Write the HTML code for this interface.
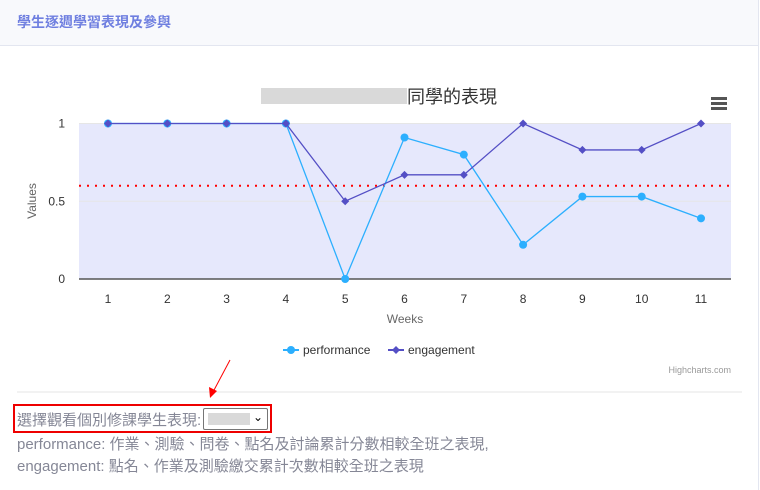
<!DOCTYPE html>
<html><head><meta charset="utf-8"><style>
body{margin:0;width:760px;height:490px;background:#fff;font-family:"Liberation Sans","Noto Sans CJK TC",sans-serif;position:relative;overflow:hidden}
.hdr{position:absolute;left:0;top:0;width:758px;height:45px;background:#f8f9fc;border-bottom:1px solid #e3e6f0;}
.hdr span{position:absolute;left:17px;top:12px;font-size:14px;font-weight:bold;color:#6f7fe0}
.rb{position:absolute;left:758px;top:0;width:1px;height:490px;background:#e3e6f0}
.txt{position:absolute;left:17px;font-size:15px;color:#858796;white-space:nowrap}
</style></head><body>
<div class="hdr"><span>學生逐週學習表現及參與</span></div>
<div class="rb"></div>
<svg width="760" height="490" style="position:absolute;left:0;top:0">
<rect x="261" y="88" width="146" height="16" fill="#d9d9d9"/>
<text x="407" y="103" font-size="18" fill="#333">同學的表現</text>
<g fill="#555"><rect x="711" y="97" width="16" height="3"/><rect x="711" y="102" width="16" height="3"/><rect x="711" y="107" width="16" height="3"/></g>
<rect x="79" y="123" width="652" height="156" fill="#e6e8fc"/>
<g id="grid"></g><g id="marks"></g>
<text x="36" y="201" font-size="12" fill="#666" text-anchor="middle" transform="rotate(-90 36 201)">Values</text>
<text x="405" y="323" font-size="12" fill="#666" text-anchor="middle">Weeks</text>
<g><line x1="283" y1="350" x2="299" y2="350" stroke="#2caffe" stroke-width="2"/><circle cx="291" cy="350" r="4" fill="#2caffe"/><text x="303" y="354" font-size="12" fill="#333">performance</text></g>
<g><line x1="388" y1="350" x2="404" y2="350" stroke="#544fc5" stroke-width="2"/><path d="M396 346 L400 350 L396 354 L392 350Z" fill="#544fc5"/><text x="408" y="354" font-size="12" fill="#333">engagement</text></g>
<text x="731" y="373" font-size="9" fill="#999" text-anchor="end">Highcharts.com</text>
<line x1="17" y1="392" x2="742" y2="392" stroke="#e6e6e6"/>
<line x1="230" y1="360" x2="213" y2="392" stroke="#f00"/>
<path d="M210 398 L209 387 L217 391Z" fill="#f00"/>
<rect x="14" y="405" width="257" height="27" fill="none" stroke="#e00" stroke-width="2"/>
</svg>
<div class="txt" style="top:409px">選擇觀看個別修課學生表現: </div>
<div style="position:absolute;left:203px;top:408px;width:63px;height:20px;border:1px solid #767676;border-radius:2px;background:#fff"><div style="position:absolute;left:4px;top:4px;width:42px;height:12px;background:#d9d9d9"></div><span style="position:absolute;right:4px;top:1px;font-size:12px;color:#000">⌄</span></div>
<div class="txt" style="top:433px">performance: 作業、測驗、問卷、點名及討論累計分數相較全班之表現,</div>
<div class="txt" style="top:455px">engagement: 點名、作業及測驗繳交累計次數相較全班之表現</div>
<script>
const weeks=["1","2","3","4","5","6","7","8","9","10","11"];
const performance=[1,1,1,1,0,0.91,0.8,0.22,0.53,0.53,0.39];
const engagement=[1,1,1,1,0.5,0.67,0.67,1,0.83,0.83,1];
const yTicks=[0,0.5,1];
const threshold=0.6;
const NS="http://www.w3.org/2000/svg";
const x=i=>108+i*59.3, y=v=>279-v*155.5;
function mk(t,a,p){const e=document.createElementNS(NS,t);for(const k in a)e.setAttribute(k,a[k]);p.appendChild(e);return e;}
const g=document.getElementById('grid'),m=document.getElementById('marks');
yTicks.forEach(v=>{
 const l=mk('line',{x1:79,x2:731,y1:y(v),y2:y(v),stroke:v===0?'#555':'#e6e6e6','stroke-width':v===0?1.5:1},g);
 
 
 const t=mk('text',{x:65,y:y(v)+4,'font-size':12,fill:'#333','text-anchor':'end'},g);t.textContent=String(v);
 
 
});
weeks.forEach((w,i)=>{const t=mk('text',{x:x(i),y:303,'font-size':12,fill:'#333','text-anchor':'middle'},g);t.textContent=w;
 
 });
const th=mk('line',{x1:79,x2:731,y1:y(threshold),y2:y(threshold),stroke:'#f00','stroke-width':2,'stroke-dasharray':'2,6'},m);


function series(vals,col,name,diamond){
 const p=mk('polyline',{points:vals.map((v,i)=>x(i)+','+y(v)).join(' '),fill:'none',stroke:col,'stroke-width':1.3},m);
 
 
 vals.forEach((v,i)=>{let e;
  if(diamond){const cx=x(i),cy=y(v);e=mk('path',{d:`M${cx} ${cy-4}L${cx+4} ${cy}L${cx} ${cy+4}L${cx-4} ${cy}Z`,fill:col},m);}
  else e=mk('circle',{cx:x(i),cy:y(v),r:4,fill:col},m);
  
  
 });
}
series(performance,'#2caffe','performance',false);
series(engagement,'#544fc5','engagement',true);
</script>
</body></html>
